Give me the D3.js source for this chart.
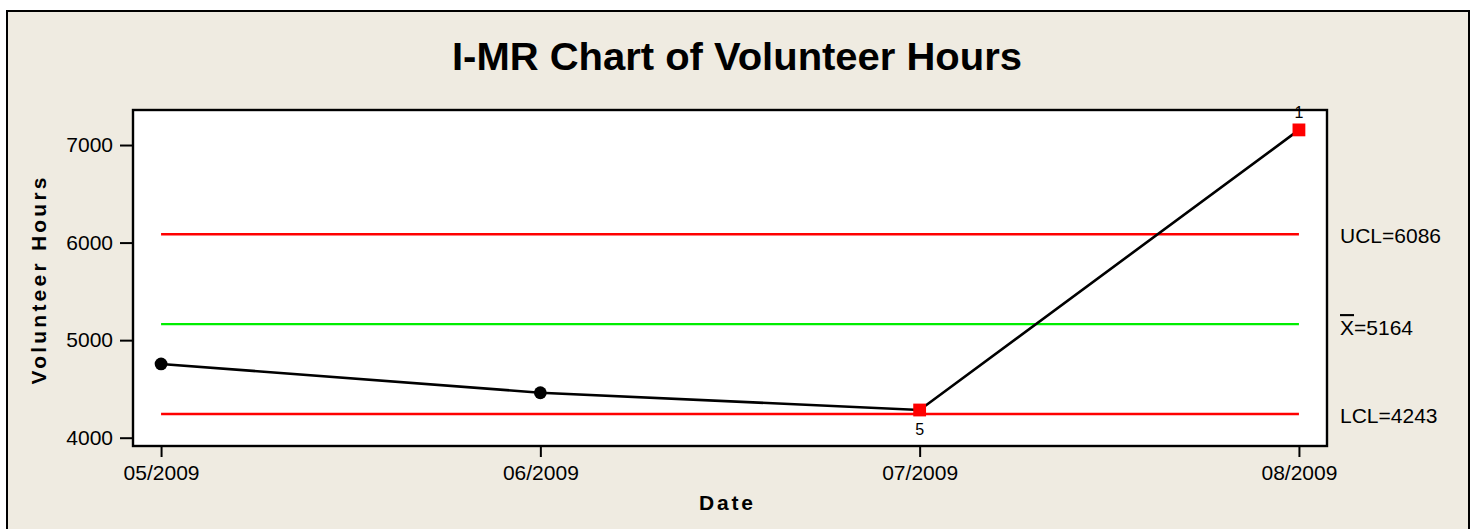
<!DOCTYPE html>
<html>
<head>
<meta charset="utf-8">
<script src="https://cdn.jsdelivr.net/npm/d3@7"></script>
<style>
  body { margin: 0; background: #ffffff; }
  svg { display: block; font-family: "Liberation Sans", Arial, sans-serif; }
</style>
</head>
<body>
<div id="chart"></div>
<script>
// data
const dates = ["05/2009", "06/2009", "07/2009", "08/2009"];
const hours = [4756, 4461, 4284, 7155];
const failedTests = [null, null, "5", "1"]; // test numbers flagged by the chart
const yTicks = [4000, 5000, 6000, 7000];
const limitNames = ["UCL", "Xbar", "LCL"];
const limitValues = [6086, 5164, 4243];

const W = 1475, H = 529;
const plot = { left: 133, right: 1327, top: 110, bottom: 446 };

const svg = d3.select("#chart")
  .append("svg")
  .attr("width", W)
  .attr("height", H);

// outer frame
svg.append("rect")
  .attr("x", 7).attr("y", 11)
  .attr("width", 1462).attr("height", 540)
  .attr("fill", "#efebe1")
  .attr("stroke", "#000").attr("stroke-width", 2);

// plot area
svg.append("rect")
  .attr("x", plot.left).attr("y", plot.top)
  .attr("width", plot.right - plot.left).attr("height", plot.bottom - plot.top)
  .attr("fill", "#fff");

const x = d3.scalePoint()
  .domain(dates)
  .range([plot.left, plot.right])
  .padding(0.074);

const y = d3.scaleLinear()
  .domain([3915, 7359])
  .range([plot.bottom, plot.top]);

// axes
const yAxis = svg.append("g")
  .attr("transform", `translate(${plot.left},0)`)
  .call(d3.axisLeft(y).tickValues(yTicks).tickFormat(d3.format("d")).tickSize(13).tickSizeOuter(0).tickPadding(7));

const xAxis = svg.append("g")
  .attr("transform", `translate(0,${plot.bottom})`)
  .call(d3.axisBottom(x).tickSize(11).tickSizeOuter(0).tickPadding(8));

[yAxis, xAxis].forEach(g => {
  g.select(".domain").remove();
  g.selectAll(".tick line").attr("stroke", "#000").attr("stroke-width", 2);
  g.selectAll(".tick text")
    .attr("fill", "#000")
    .style("font-size", "21px")
    .style("font-family", "'Liberation Sans', Arial, sans-serif");
});

// control limit lines
const xStart = x(dates[0]), xEnd = x(dates[dates.length - 1]);
svg.selectAll(".limit")
  .data(limitValues)
  .enter().append("line")
  .attr("class", "limit")
  .attr("x1", xStart).attr("x2", xEnd)
  .attr("y1", d => y(d)).attr("y2", d => y(d))
  .attr("stroke", (d, i) => limitNames[i] === "Xbar" ? "#00ee00" : "#ff0000")
  .attr("stroke-width", 2.4);

// limit labels on the right
const lab = svg.selectAll(".limit-label")
  .data(limitValues)
  .enter().append("text")
  .attr("class", "limit-label")
  .attr("x", plot.right + 13)
  .attr("y", d => y(d))
  .attr("dy", (d, i) => limitNames[i] === "Xbar" ? "0.52em" : "0.42em")
  .style("font-size", "21px")
  .attr("fill", "#000");

lab.each(function(d, i) {
  const t = d3.select(this);
  if (limitNames[i] === "Xbar") {
    t.append("tspan").text("X").style("text-decoration", "overline");
    t.append("tspan").text("=" + d);
  } else {
    t.text(limitNames[i] + "=" + d);
  }
});

// data line
const line = d3.line()
  .x((d, i) => x(dates[i]))
  .y(d => y(d));

svg.append("path")
  .datum(hours)
  .attr("d", line)
  .attr("fill", "none")
  .attr("stroke", "#000")
  .attr("stroke-width", 2.6);

// plot border
svg.append("rect")
  .attr("x", plot.left).attr("y", plot.top)
  .attr("width", plot.right - plot.left).attr("height", plot.bottom - plot.top)
  .attr("fill", "none")
  .attr("stroke", "#000").attr("stroke-width", 2.4);

// points: in control -> black circles, flagged -> red squares
const pts = hours.map((v, i) => ({ date: dates[i], value: v, test: failedTests[i] }));

svg.selectAll(".pt-ok")
  .data(pts.filter(p => !p.test))
  .enter().append("circle")
  .attr("class", "pt-ok")
  .attr("cx", d => x(d.date))
  .attr("cy", d => y(d.value))
  .attr("r", 6.4)
  .attr("fill", "#000");

const sq = 12.8;
svg.selectAll(".pt-bad")
  .data(pts.filter(p => p.test))
  .enter().append("rect")
  .attr("class", "pt-bad")
  .attr("x", d => x(d.date) - sq / 2)
  .attr("y", d => y(d.value) - sq / 2)
  .attr("width", sq).attr("height", sq)
  .attr("fill", "#ff0000");

// test number labels: below for low points, above for high points
svg.selectAll(".test-label")
  .data(pts.filter(p => p.test))
  .enter().append("text")
  .attr("class", "test-label")
  .attr("x", d => x(d.date))
  .attr("y", d => d.value < limitValues[1] ? y(d.value) + 25 : y(d.value) - 12)
  .attr("text-anchor", "middle")
  .style("font-size", "16px")
  .attr("fill", "#000")
  .text(d => d.test);

// titles
svg.append("text")
  .attr("x", 737).attr("y", 70)
  .attr("text-anchor", "middle")
  .attr("textLength", 570)
  .attr("lengthAdjust", "spacingAndGlyphs")
  .style("font-size", "39px")
  .style("font-weight", "bold")
  .text("I-MR Chart of Volunteer Hours");

svg.append("text")
  .attr("transform", "translate(46,281) rotate(-90)")
  .attr("text-anchor", "middle")
  .attr("textLength", 207)
  .attr("lengthAdjust", "spacing")
  .style("font-size", "21px")
  .style("font-weight", "bold")
  .text("Volunteer Hours");

svg.append("text")
  .attr("x", 726).attr("y", 510)
  .attr("text-anchor", "middle")
  .attr("textLength", 54)
  .attr("lengthAdjust", "spacing")
  .style("font-size", "21px")
  .style("font-weight", "bold")
  .text("Date");
</script>
</body>
</html>
